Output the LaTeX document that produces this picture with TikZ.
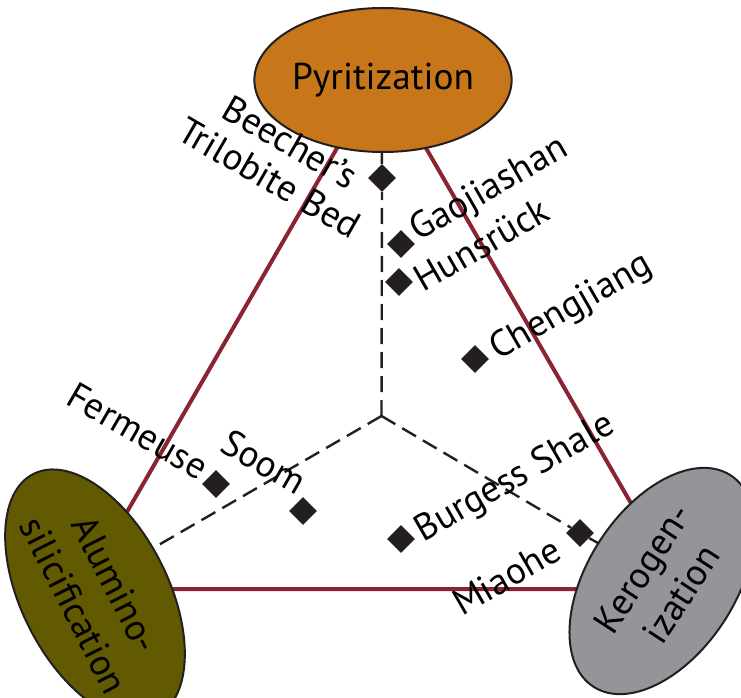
\documentclass[tikz,border=0pt]{standalone}
\usepackage{fontspec}
\setmainfont{PT Sans}
\usetikzlibrary{shapes.geometric}

\begin{document}
\begin{tikzpicture}[
  x=0.75pt,y=-0.75pt,
  proc/.style={ellipse,draw=outl,line width=1.5pt,inner sep=0pt,align=center,
    font=\fontsize{28}{35}\selectfont},
  site/.style={diamond,fill=outl,inner sep=0pt,minimum size=21pt},
  lbl/.style={inner sep=0pt,font=\fontsize{28}{31}\selectfont},
  side/.style={draw=redl,line width=3pt},
  guide/.style={draw=outl,line width=1.8pt,dash pattern=on 12pt off 6pt}]

  \definecolor{outl}{HTML}{231F20}
  \definecolor{redl}{HTML}{8B2332}
  \definecolor{pyr}{HTML}{C8761A}
  \definecolor{alu}{HTML}{625A00}
  \definecolor{ker}{HTML}{939598}

  \fill[white] (0,0) rectangle (741,698);
  \useasboundingbox (0,0) rectangle (741,698);

  % ------------------- triangle ----------------------
  \coordinate (top)   at (381.5,71);
  \coordinate (left)  at (82.5,589);
  \coordinate (right) at (680.5,589);
  \coordinate (mid)   at (381.5,416);

  \draw[side] (top) -- (left) -- (right) -- cycle;

  % ------------------- sites ----------------------
  \node[site] (beecher) at (382,178) {};
  \node[site] (gao)     at (401,244) {};
  \node[site] (huns)    at (399,282) {};
  \node[site] (cheng)   at (475,359) {};
  \node[site] (ferm)    at (216,484) {};
  \node[site] (soom)    at (303,511) {};
  \node[site] (burg)    at (401,539) {};
  \node[site] (miao)    at (580,533) {};

  \draw[guide] (mid) -- (beecher) -- (top);
  \draw[guide] (mid) -- (left);
  \draw[guide] (mid) -- (miao);
  \draw[outl,line width=1.8pt] (miao) -- (right);

  % ------------------- processes ----------------------
  \node[proc,fill=pyr,minimum width=186pt,minimum height=108pt] (pyrite) at (383,80) {Pyritization};
  \node[proc,fill=alu,rotate=-63,minimum width=198pt,minimum height=110pt] (alumino) at (95,595) {Alumino-\\silicification};
  \node[proc,fill=ker,rotate=57,minimum width=189pt,minimum height=111pt] (kerogen) at (662,581) {Kerogen-\\ization};

  % ------------------- labels ----------------------
  \node[lbl,rotate=-30,align=center] (beecherl) at (280,160) {Beecher’s\\Trilobite Bed};
  \node[lbl,rotate=30,anchor=base west] (gaol)   at (418,242) {Gaojiashan};
  \node[lbl,rotate=30,anchor=base west] (hunsl)  at (423,293) {Hunsrück};
  \node[lbl,rotate=30,anchor=base west] (chengl) at (498,361) {Chengjiang};
  \node[lbl,rotate=-30,anchor=base west] (ferml) at (64,403)  {Fermeuse};
  \node[lbl,rotate=-30,anchor=base west] (sooml) at (218,450) {Soom};
  \node[lbl,rotate=30,anchor=base west] (burgl)  at (423,543) {Burgess Shale};
  \node[lbl,rotate=30,anchor=base west] (miaol)  at (462,617) {Miaohe};
\end{tikzpicture}
\end{document}
